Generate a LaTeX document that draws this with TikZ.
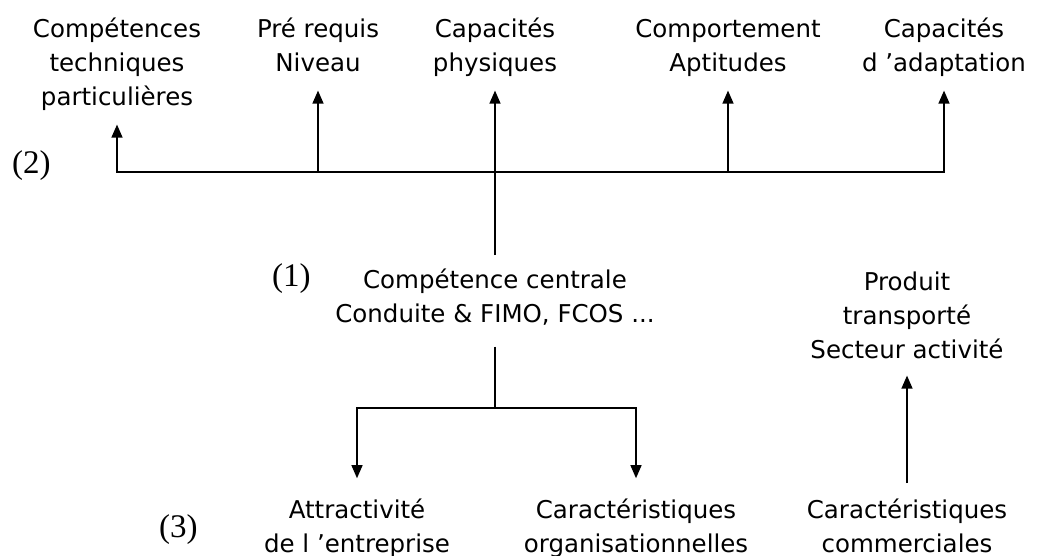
\documentclass[tikz,border=0pt]{standalone}
\usepackage{fontspec}
\setmainfont{DejaVu Sans}
\newfontfamily\tagfont{Liberation Serif}
\usetikzlibrary{arrows.meta}

\begin{document}
\begin{tikzpicture}[x=1pt,y=-1pt,
  lbl/.style={align=center, inner sep=0pt, anchor=north,
    font=\fontsize{24.5}{34}\selectfont},
  tag/.style={inner sep=0pt, anchor=base west,
    font=\tagfont\fontsize{33}{36}\selectfont},
  link/.style={line width=1.3pt, draw=black},
  arr/.style={link, -{Triangle[length=13pt,width=11pt]}}]
\useasboundingbox (0,0) rectangle (1046,556);

% upper row of competences
\node[lbl] (t1) at (117,13.2) {\strut Compétences\\techniques\\particulières\strut};
\node[lbl] (t2) at (318,13.2) {\strut Pré requis\\Niveau\strut};
\node[lbl] (t3) at (495,13.2) {\strut Capacités\\physiques\strut};
\node[lbl] (t4) at (728,13.2) {\strut Comportement\\Aptitudes\strut};
\node[lbl] (t5) at (944,13.2) {\strut Capacités\\d 'adaptation\strut};

% central competence
\node[lbl] (c) at (495,264.2) {\strut Compétence centrale\\Conduite \& FIMO, FCOS ...\strut};

% lower row
\node[lbl] (b1) at (357,494.2) {\strut Attractivité\\de l 'entreprise\strut};
\node[lbl] (b2) at (636,494.2) {\strut Caractéristiques\\organisationnelles\strut};
\node[lbl] (b3) at (907,494.2) {\strut Caractéristiques\\commerciales\strut};
\node[lbl] (p)  at (907,266.2) {\strut Produit\\transporté\\Secteur activité\strut};

% level markers
\node[tag] (m2) at (12,174) {(2)};
\node[tag] (m1) at (272,286) {(1)};
\node[tag] (m3) at (159,537) {(3)};

% junction points
\coordinate (bus) at (495,172);
\coordinate (split) at (495,408);

% trunk from the central competence up to the upper row
\draw[arr, shorten <=9pt, shorten >=9pt] (c.north) -- (t3.south);
\draw[arr, shorten >=9pt] (bus) -| (t1.south);
\draw[arr, shorten >=9pt] (bus) -| (t2.south);
\draw[arr, shorten >=9pt] (bus) -| (t4.south);
\draw[arr, shorten >=9pt] (bus) -| (t5.south);

% branches down to the lower row
\draw[link, shorten <=14pt] (c.south) -- (split);
\draw[arr, shorten >=16pt] (split) -| (b1.north);
\draw[arr, shorten >=16pt] (split) -| (b2.north);

% commercial characteristics to the transported product
\draw[arr, shorten <=11pt, shorten >=7pt] (b3.north) -- (p.south);
\end{tikzpicture}
\end{document}
